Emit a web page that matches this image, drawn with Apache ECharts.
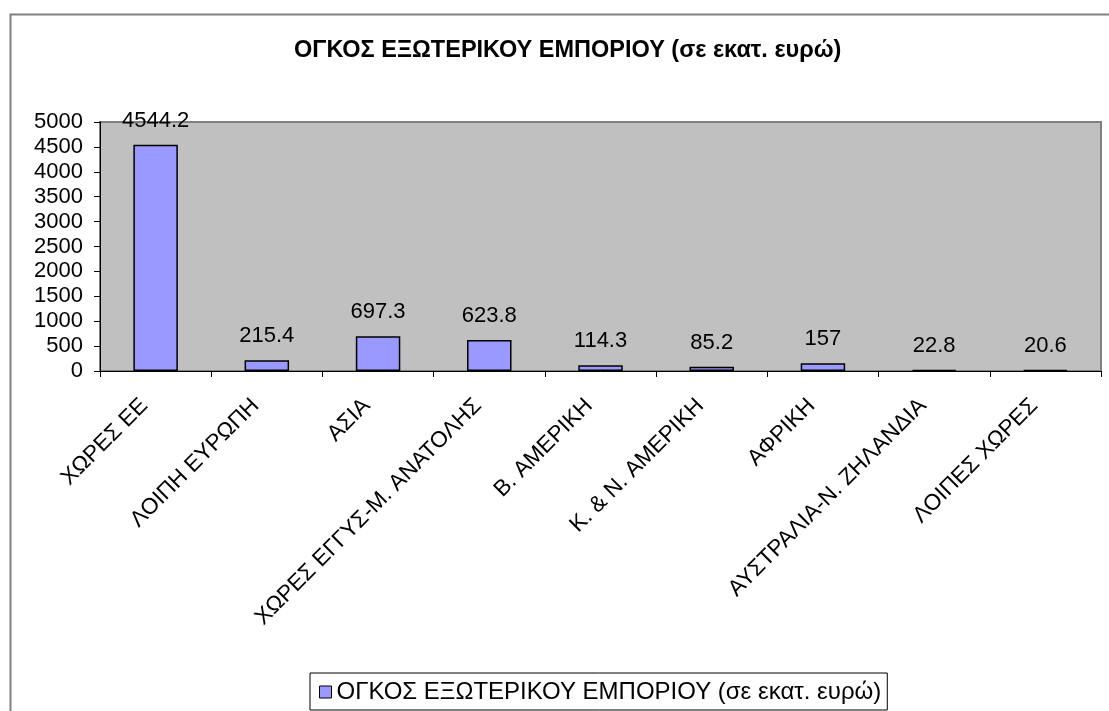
<!DOCTYPE html>
<html>
<head>
<meta charset="utf-8">
<script src="https://cdn.jsdelivr.net/npm/echarts@6/dist/echarts.min.js"></script>
<style>
html,body{margin:0;padding:0;background:#fff;}
#chart{width:1109px;height:711px;}
</style>
</head>
<body>
<div id="chart"></div>
<script>
const titleText = 'ΟΓΚΟΣ ΕΞΩΤΕΡΙΚΟΥ ΕΜΠΟΡΙΟΥ (σε εκατ. ευρώ)';
const seriesName = 'ΟΓΚΟΣ ΕΞΩΤΕΡΙΚΟΥ ΕΜΠΟΡΙΟΥ (σε εκατ. ευρώ)';
const categories = ['ΧΩΡΕΣ ΕΕ', 'ΛΟΙΠΗ ΕΥΡΩΠΗ', 'ΑΣΙΑ', 'ΧΩΡΕΣ ΕΓΓΥΣ-Μ. ΑΝΑΤΟΛΗΣ', 'Β. ΑΜΕΡΙΚΗ', 'Κ. & Ν. ΑΜΕΡΙΚΗ', 'ΑΦΡΙΚΗ', 'ΑΥΣΤΡΑΛΙΑ-Ν. ΖΗΛΑΝΔΙΑ', 'ΛΟΙΠΕΣ ΧΩΡΕΣ'];
const values = [4544.2, 215.4, 697.3, 623.8, 114.3, 85.2, 157, 22.8, 20.6];

const chart = echarts.init(document.getElementById('chart'), null, {renderer: 'canvas'});
const font = 'Liberation Sans, Arial, sans-serif';
chart.setOption({
  animation: false,
  backgroundColor: '#ffffff',
  textStyle: {fontFamily: font},
  graphic: [{
    type: 'rect', left: 8, top: 12, z: -10, silent: true,
    shape: {x: 0, y: 0, width: 1200, height: 800},
    style: {fill: 'none', stroke: '#808080', lineWidth: 2}
  }],
  title: {
    text: titleText, left: 289, top: 34,
    textStyle: {fontFamily: font, fontSize: 23.5, fontWeight: 'bold', color: '#000'}
  },
  legend: {
    bottom: 1, left: 310,
    itemWidth: 12, itemHeight: 12, icon: 'rect', itemGap: 5,
    borderColor: '#000', borderWidth: 1, padding: [7, 6, 6, 9],
    textStyle: {fontFamily: font, fontSize: 24, color: '#000'},
    data: [{name: seriesName, itemStyle: {color: '#9999ff', borderColor: '#000', borderWidth: 1}}]
  },
  grid: {
    left: 100, right: 8, top: 122, bottom: 340,
    show: true, backgroundColor: '#c0c0c0', borderColor: '#808080', borderWidth: 2
  },
  xAxis: {
    type: 'category', data: categories,
    axisLine: {lineStyle: {color: '#000', width: 1}},
    axisTick: {show: true, length: 6, lineStyle: {color: '#000'}},
    axisLabel: {rotate: 45, interval: 0, fontSize: 22.5, color: '#000', margin: 20, padding: [0, 16, 0, 0], fontFamily: font}
  },
  yAxis: {
    type: 'value', min: 0, max: 5000, interval: 500,
    axisLine: {show: true, lineStyle: {color: '#000', width: 1}},
    axisTick: {show: true, length: 6, lineStyle: {color: '#000'}},
    splitLine: {show: false},
    axisLabel: {fontSize: 22, color: '#000', margin: 17, fontFamily: font, formatter: v => String(v)}
  },
  series: [{
    name: seriesName, type: 'bar', data: values, barWidth: '40%',
    itemStyle: {color: '#9999ff', borderColor: '#000', borderWidth: 1.5},
    label: {show: true, position: 'top', distance: 13, fontSize: 22, color: '#000', fontFamily: font}
  }]
});
</script>
</body>
</html>
